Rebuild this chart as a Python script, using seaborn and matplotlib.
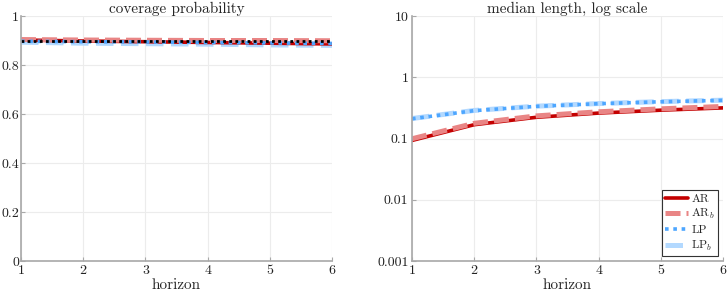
import numpy as np
import pandas as pd
import matplotlib
matplotlib.use("Agg")
import matplotlib.pyplot as plt
import seaborn as sns
from matplotlib.ticker import FixedLocator, FixedFormatter

horizon = [1, 2, 3, 4, 5, 6]
series = ["AR", "AR$_b$", "LP", "LP$_b$"]

cov_AR = [0.902, 0.898, 0.895, 0.892, 0.889, 0.886]
cov_ARb = [0.904, 0.902, 0.901, 0.900, 0.900, 0.899]
cov_LP = [0.897, 0.895, 0.894, 0.892, 0.890, 0.888]
cov_LPb = [0.893, 0.889, 0.887, 0.885, 0.882, 0.880]
nominal = 0.9

len_AR = [0.093, 0.168, 0.222, 0.260, 0.290, 0.316]
len_ARb = [0.099, 0.177, 0.234, 0.273, 0.305, 0.334]
len_LP = [0.210, 0.285, 0.335, 0.370, 0.398, 0.420]
len_LPb = [0.212, 0.287, 0.337, 0.372, 0.400, 0.422]

cov_ticks = [0, 0.2, 0.4, 0.6, 0.8, 1]
cov_ticklabels = ["0", "0.2", "0.4", "0.6", "0.8", "1"]
len_ticks = [0.001, 0.01, 0.1, 1, 10]
len_ticklabels = ["0.001", "0.01", "0.1", "1", "10"]

sns.set_theme(style="whitegrid")
plt.rcParams["font.family"] = ["cmr10", "DejaVu Serif"]
plt.rcParams["mathtext.fontset"] = "cm"
plt.rcParams["axes.formatter.use_mathtext"] = True

styles = {
    "AR": dict(color="#c40000", lw=2.6, ls="-"),
    "AR$_b$": dict(color="#e98585", lw=3.6, ls=(0, (3, 1.2))),
    "LP": dict(color="#4da6ff", lw=2.6, ls=(0, (1, 1.3))),
    "LP$_b$": dict(color="#b3d9ff", lw=3.6, ls=(0, (3.5, 1.5))),
}
order = ["LP$_b$", "AR", "AR$_b$", "LP"]

fig = plt.figure(figsize=(7.27, 2.94), dpi=100)
ax1 = fig.add_axes([21 / 727, 1 - 261 / 294, 311 / 727, 245 / 294])
ax2 = fig.add_axes([412 / 727, 1 - 261 / 294, 311 / 727, 245 / 294])

cov = {"AR": cov_AR, "AR$_b$": cov_ARb, "LP": cov_LP, "LP$_b$": cov_LPb}
lng = {"AR": len_AR, "AR$_b$": len_ARb, "LP": len_LP, "LP$_b$": len_LPb}

handles = {}
for name in order:
    df = pd.DataFrame({"horizon": horizon, "value": cov[name]})
    st = styles[name]
    sns.lineplot(data=df, x="horizon", y="value", ax=ax1, color=st["color"],
                 linewidth=st["lw"], linestyle=st["ls"])
ax1.plot([horizon[0], horizon[-1]], [nominal, nominal], color="black",
         lw=2.0, ls=(0, (1, 1.2)))

for name in order:
    df = pd.DataFrame({"horizon": horizon, "value": lng[name]})
    st = styles[name]
    sns.lineplot(data=df, x="horizon", y="value", ax=ax2, color=st["color"],
                 linewidth=st["lw"], linestyle=st["ls"])
    handles[name] = ax2.lines[-1]

ax2.set_yscale("log")

for ax in (ax1, ax2):
    ax.set_xlim(1, 6)
    ax.set_xticks(horizon)
    ax.set_xticklabels([str(h) for h in horizon])
    ax.set_xlabel("horizon", fontsize=11, labelpad=1)
    ax.set_ylabel("")
    ax.set_facecolor("white")
    ax.grid(True, color="#ececec", lw=0.8)
    for s in ("top", "right"):
        ax.spines[s].set_visible(False)
    for s in ("left", "bottom"):
        ax.spines[s].set_color("#a8a8a8")
        ax.spines[s].set_linewidth(1.2)
    ax.tick_params(axis="both", direction="in", length=3, width=0.8,
                   colors="#a8a8a8", labelcolor="#222222", labelsize=10,
                   pad=2.5, left=True, bottom=True)
ax1.tick_params(axis="y", pad=1.5)

ax1.set_ylim(0, 1)
ax1.set_yticks(cov_ticks)
ax1.set_yticklabels(cov_ticklabels)
ax1.set_title("coverage probability", fontsize=11, pad=2)

ax2.set_ylim(0.001, 10)
ax2.yaxis.set_major_locator(FixedLocator(len_ticks))
ax2.yaxis.set_major_formatter(FixedFormatter(len_ticklabels))
ax2.yaxis.set_minor_locator(FixedLocator([]))
ax2.set_title("median length, log scale", fontsize=11, pad=2)

leg = ax2.legend([handles[s] for s in series], series, loc="lower right",
                 fontsize=8.5, frameon=True, fancybox=False, framealpha=1,
                 edgecolor="#333333", handlelength=1.9, handletextpad=0.3,
                 borderpad=0.3, labelspacing=0.3, borderaxespad=0.4)
leg.get_frame().set_linewidth(0.8)

fig.savefig("out.png", dpi=100)
